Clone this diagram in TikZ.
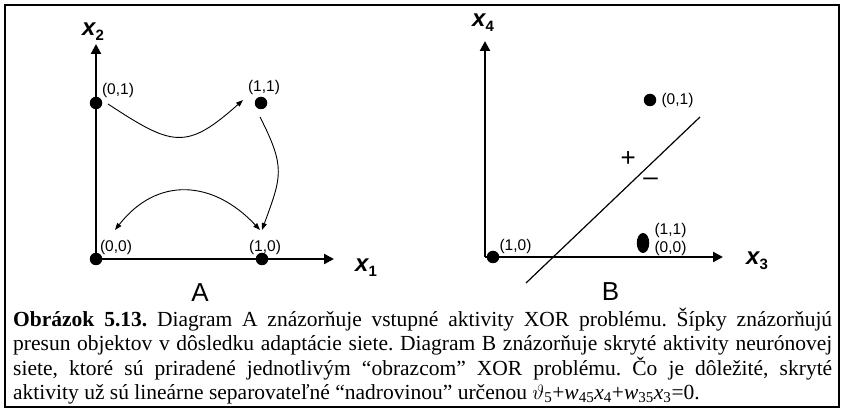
\documentclass[tikz,border=0pt]{standalone}
\usepackage{fontspec}
\setmainfont{Liberation Serif}
\newfontfamily\arialf{Liberation Sans}
\usetikzlibrary{arrows.meta,shapes.geometric}
\begin{document}
\begin{tikzpicture}[x=1pt,y=1pt,
  axis/.style={line width=2.2pt, -{Triangle[length=10pt,width=10pt]}},
  dot/.style={circle, fill=black, inner sep=0pt, minimum size=12.5pt},
  ovaldot/.style={ellipse, fill=black, inner sep=0pt, minimum width=12.5pt, minimum height=20pt},
  lbl/.style={font=\arialf\fontsize{15.5}{17}\selectfont, inner sep=0pt},
  axlbl/.style={font=\arialf\bfseries\fontsize{24}{26}\selectfont, inner sep=0pt, anchor=base west},
  panel/.style={font=\arialf\fontsize{26}{28}\selectfont, inner sep=0pt},
  sign/.style={font=\arialf\fontsize{26}{28}\selectfont, inner sep=0pt},
  flow/.style={line width=0.9pt, -{Triangle[length=7pt,width=5pt]}},
  flowboth/.style={line width=0.9pt, {Triangle[length=7pt,width=5pt]}-{Triangle[length=7pt,width=5pt]}},
  sepline/.style={line width=1.2pt},
  caption/.style={inner sep=0pt, anchor=north west, text width=819pt, align=justify,
    font=\fontsize{21.5}{24.5}\selectfont}
]
\useasboundingbox (0,0) rectangle (844,410);
\draw[line width=2pt] (5,3) rectangle (839,405);

% ---------- Panel A ----------
\coordinate (oA) at (96,151);
\coordinate (yA) at (96,366);
\coordinate (xA) at (334,151);
\draw[axis] (oA) -- (yA);
\draw[axis] (oA) -- (xA);
\node[axlbl] (x2) at (82,374) {\itshape x\raisebox{-4.5pt}{\upshape\fontsize{15}{15}\selectfont 2}};
\node[axlbl] (x1) at (355,138) {\itshape x\raisebox{-4.5pt}{\upshape\fontsize{15}{15}\selectfont 1}};

\node[dot] (a00) at (96,151) {};
\node[dot] (a10) at (262,151) {};
\node[dot] (a01) at (96,307) {};
\node[dot] (a11) at (261,307) {};
\node[lbl] (la01) at (118,320) {(0,1)};
\node[lbl] (la11) at (264,322.5) {(1,1)};
\node[lbl] (la00) at (116,163) {(0,0)};
\node[lbl] (la10) at (265,163) {(1,0)};

\coordinate (s1) at (108,306);
\coordinate (e1) at (243,310);
\coordinate (s2) at (260,293);
\coordinate (e2) at (262,180);
\coordinate (s3) at (115,180);
\coordinate (e3) at (260,180);
\draw[flow] (s1) .. controls (172,264) and (186,259) .. (e1);
\draw[flow] (s2) .. controls (285.9,242.2) and (281.5,233.6) .. (e2);
\draw[flowboth] (s3) .. controls (157.2,234) and (213.3,230) .. (e3);

\node[panel] (pA) at (200,117.5) {A};

% ---------- Panel B ----------
\coordinate (oB) at (485,153);
\coordinate (yB) at (485,369);
\coordinate (xB) at (723,153);
\draw[axis] (oB) -- (yB);
\draw[axis] (oB) -- (xB);
\node[axlbl] (x4) at (472,383) {\itshape x\raisebox{-4.5pt}{\upshape\fontsize{15}{15}\selectfont 4}};
\node[axlbl] (x3) at (746,145) {\itshape x\raisebox{-4.5pt}{\upshape\fontsize{15}{15}\selectfont 3}};

\node[dot] (b10) at (493,153) {};
\node[dot] (b01) at (650,310) {};
\node[ovaldot] (b1100) at (643,167) {};
\node[lbl] (lb10) at (515.5,164) {(1,0)};
\node[lbl] (lb01) at (677.5,310) {(0,1)};
\node[lbl] (lb11) at (670.5,180) {(1,1)};
\node[lbl] (lb00) at (670.5,161.5) {(0,0)};

\coordinate (l1) at (526,127);
\coordinate (l2) at (700,293);
\draw[sepline] (l1) -- (l2);
\node[sign] (plus) at (628.3,250.7) {+};
\node[sign] (minus) at (650.7,228.3) {\textendash};

\node[panel] (pB) at (610.5,118) {B};

% ---------- Caption ----------
\node[caption] (cap) at (13,102.5) {\frenchspacing\tolerance=9999\emergencystretch=20pt
\textbf{Obrázok 5.13.} Diagram A znázorňuje vstupné aktivity XOR problému. Šípky znázorňujú\linebreak
presun objektov v dôsledku adaptácie siete. Diagram B znázorňuje skryté aktivity neurónovej\linebreak
siete, ktoré sú priradené jednotlivým “obrazcom” XOR problému. Čo je dôležité, skryté\linebreak
aktivity už sú lineárne separovateľné “nadrovinou” určenou $\vartheta$\textsubscript{5}+\textit{w}\textsubscript{45}\textit{x}\textsubscript{4}+\textit{w}\textsubscript{35}\textit{x}\textsubscript{3}=0.};
\end{tikzpicture}
\end{document}
